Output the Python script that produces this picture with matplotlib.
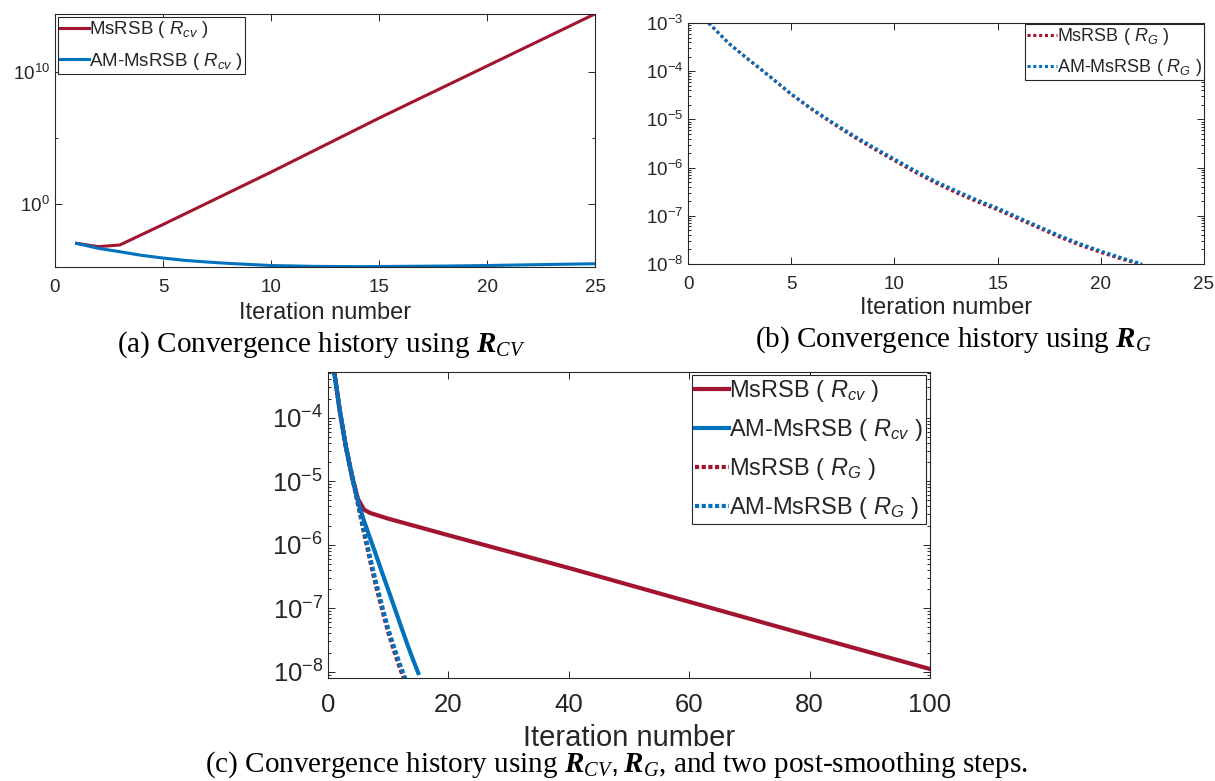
import matplotlib
matplotlib.use('Agg')
import matplotlib.pyplot as plt
from matplotlib.ticker import LogLocator, NullFormatter, FixedLocator

plt.rcParams['font.family'] = ['Liberation Sans', 'DejaVu Sans']
plt.rcParams['mathtext.fontset'] = 'custom'
plt.rcParams['mathtext.rm'] = 'Liberation Sans'
plt.rcParams['mathtext.it'] = 'Liberation Sans:italic'
plt.rcParams['mathtext.bf'] = 'Liberation Serif:bold:italic'
plt.rcParams['mathtext.cal'] = 'Liberation Serif:italic'

RED = '#A2142F'
BLUE = '#0072BD'
GREY = '#262626'

# (a) residual with R_cv
a_iter_ms = [1, 2, 3, 5, 10, 15, 20, 25]
a_ms = [1.05e-3, 5.9e-4, 7.9e-4, 2.8e-2, 2.6e2, 3.2e6, 2.8e10, 2.5e14]
a_iter_am = [1, 2, 3, 4, 5, 6, 7, 8, 10, 12, 14, 16, 18, 20, 22, 25]
a_am = [1.05e-3, 4.4e-4, 2.45e-4, 1.3e-4, 8.1e-5, 5.4e-5, 4.1e-5, 3.2e-5,
        2.2e-5, 1.9e-5, 1.8e-5, 1.9e-5, 2.0e-5, 2.2e-5, 2.5e-5, 3.0e-5]

# (b) residual with R_G
b_iter = list(range(1, 23))
b_am = [1.0e-3, 3.7e-4, 1.66e-4, 7.6e-5, 3.4e-5, 1.66e-5, 8.7e-6, 4.7e-6,
        2.63e-6, 1.51e-6, 8.7e-7, 5.2e-7, 3.3e-7, 2.14e-7, 1.45e-7, 9.3e-8,
        6.0e-8, 3.9e-8, 2.63e-8, 1.86e-8, 1.35e-8, 1.0e-8]
b_ms = [1.0e-3, 3.7e-4, 1.65e-4, 7.5e-5, 3.3e-5, 1.6e-5, 8.3e-6, 4.4e-6,
        2.45e-6, 1.4e-6, 8.0e-7, 4.8e-7, 3.0e-7, 1.96e-7, 1.33e-7, 8.6e-8,
        5.6e-8, 3.6e-8, 2.45e-8, 1.74e-8, 1.27e-8, 9.6e-9]

# (c) both residuals, two post-smoothing steps
c_iter_ms_cv = [1, 2, 3, 4, 5, 6, 7, 8, 10, 20, 40, 60, 80, 100]
c_ms_cv = [5.5e-4, 1.2e-4, 3.4e-5, 1.2e-5, 5.2e-6, 3.55e-6, 3.16e-6, 2.95e-6,
           2.57e-6, 1.41e-6, 4.3e-7, 1.26e-7, 3.7e-8, 1.1e-8]
c_iter_am_cv = list(range(1, 16))
c_am_cv = [5.5e-4, 1.2e-4, 3.4e-5, 1.12e-5, 4.7e-6, 2.34e-6, 1.26e-6, 6.8e-7,
           3.6e-7, 1.95e-7, 1.05e-7, 5.6e-8, 3.0e-8, 1.66e-8, 9.5e-9]
c_iter_g = list(range(1, 14))
c_ms_g = [5.5e-4, 1.2e-4, 3.3e-5, 1.2e-5, 4.2e-6, 1.5e-6, 5.6e-7, 2.2e-7,
          9.5e-8, 4.2e-8, 2.1e-8, 1.1e-8, 6.3e-9]
c_am_g = [5.5e-4, 1.26e-4, 3.5e-5, 1.26e-5, 4.5e-6, 1.66e-6, 6.3e-7, 2.5e-7,
          1.07e-7, 4.7e-8, 2.4e-8, 1.26e-8, 7.1e-9]

lab_ms_cv = r'MsRSB ( $R_{cv}$ )'
lab_am_cv = r'AM-MsRSB ( $R_{cv}$ )'
lab_ms_g = r'MsRSB ( $R_{G}$ )'
lab_am_g = r'AM-MsRSB ( $R_{G}$ )'

W, H = 1215, 781
fig = plt.figure(figsize=(W / 100, H / 100), dpi=100)


def box(l, t, r, b):
    return [l / W, 1 - b / H, (r - l) / W, (b - t) / H]


def style(ax, fs, pad):
    for s in ax.spines.values():
        s.set_color(GREY)
        s.set_linewidth(0.8)
    ax.tick_params(which='both', direction='in', top=True, right=True,
                   colors=GREY, labelsize=fs, width=0.7)
    ax.tick_params(which='major', length=5)
    ax.tick_params(which='minor', length=2.5)
    ax.tick_params(axis='x', pad=pad)


def leg(ax, anchor, loc, fs, hl, ls):
    lg = ax.legend(loc=loc, bbox_to_anchor=anchor, borderaxespad=0,
                   fontsize=fs, fancybox=False, framealpha=1,
                   handlelength=hl, handletextpad=0.0, borderpad=0.12,
                   labelspacing=ls)
    lg.get_frame().set_edgecolor(GREY)
    lg.get_frame().set_linewidth(0.8)
    for t in lg.get_texts():
        t.set_color(GREY)
    return lg


# ---- (a)
ax = fig.add_axes(box(55, 14, 595, 267))
ax.plot(a_iter_ms, a_ms, color=RED, lw=2.2, label=lab_ms_cv)
ax.plot(a_iter_am, a_am, color=BLUE, lw=2.2, label=lab_am_cv)
ax.set_yscale('log')
ax.set_xlim(0, 25)
ax.set_ylim(10 ** -4.77, 10 ** 14.39)
ax.set_xticks([0, 5, 10, 15, 20, 25])
ax.yaxis.set_major_locator(FixedLocator([1e0, 1e10]))
ax.yaxis.set_minor_locator(FixedLocator([1e5]))
ax.yaxis.set_minor_formatter(NullFormatter())
style(ax, 13.5, 9)
ax.set_xlabel('Iteration number', fontsize=17, color=GREY, labelpad=4)
leg(ax, (0.006, 0.988), 'upper left', 13.5, 1.5, 0.55)

# ---- (b)
dot_b = (0, (1, 0.9))
ax = fig.add_axes(box(688, 23, 1204, 264))
ax.plot(b_iter, b_ms, color=RED, lw=2.2, ls=dot_b, label=lab_ms_g)
ax.plot(b_iter, b_am, color=BLUE, lw=2.2, ls=dot_b, label=lab_am_g)
ax.set_yscale('log')
ax.set_xlim(0, 25)
ax.set_ylim(1e-8, 1e-3)
ax.set_xticks([0, 5, 10, 15, 20, 25])
ax.yaxis.set_major_locator(LogLocator(base=10, numticks=20))
ax.yaxis.set_minor_locator(LogLocator(base=10, subs=range(2, 10), numticks=20))
ax.yaxis.set_minor_formatter(NullFormatter())
style(ax, 13.5, 8.5)
ax.set_xlabel('Iteration number', fontsize=17, color=GREY, labelpad=3)
leg(ax, (1.0, 0.996), 'upper right', 13, 1.65, 0.55)

# ---- (c)
dot_c = (0, (1, 0.6))
ax = fig.add_axes(box(328, 372, 930, 678))
ax.plot(c_iter_ms_cv, c_ms_cv, color=RED, lw=3, label=lab_ms_cv)
ax.plot(c_iter_am_cv, c_am_cv, color=BLUE, lw=3, label=lab_am_cv)
ax.plot(c_iter_g, c_ms_g, color=RED, lw=3, ls=dot_c, label=lab_ms_g)
ax.plot(c_iter_g, c_am_g, color=BLUE, lw=3, ls=dot_c, label=lab_am_g)
ax.set_yscale('log')
ax.set_xlim(0, 100)
ax.set_ylim(10 ** -8.1, 10 ** -3.28)
ax.set_xticks([0, 20, 40, 60, 80, 100])
ax.yaxis.set_major_locator(LogLocator(base=10, numticks=20))
ax.yaxis.set_minor_locator(LogLocator(base=10, subs=range(2, 10), numticks=20))
ax.yaxis.set_minor_formatter(NullFormatter())
style(ax, 18.5, 11)
ax.set_xlabel('Iteration number', fontsize=21, color=GREY, labelpad=5)
leg(ax, (0.993, 0.99), 'upper right', 17, 1.45, 0.55)

# ---- captions
cap = dict(fontfamily='Liberation Serif', fontsize=21, ha='center', va='center')
fig.text(321 / W, 1 - 345 / H,
         r'(a) Convergence history using $\mathbf{R}_{\mathcal{CV}}$', **cap)
fig.text(953 / W, 1 - 340 / H,
         r'(b) Convergence history using $\mathbf{R}_{\mathcal{G}}$', **cap)
fig.text(616 / W, 1 - 765 / H,
         r'(c) Convergence history using $\mathbf{R}_{\mathcal{CV}}, \mathbf{R}_{\mathcal{G}}$, and two post-smoothing steps.',
         **cap)

fig.savefig('out.png', dpi=100)
